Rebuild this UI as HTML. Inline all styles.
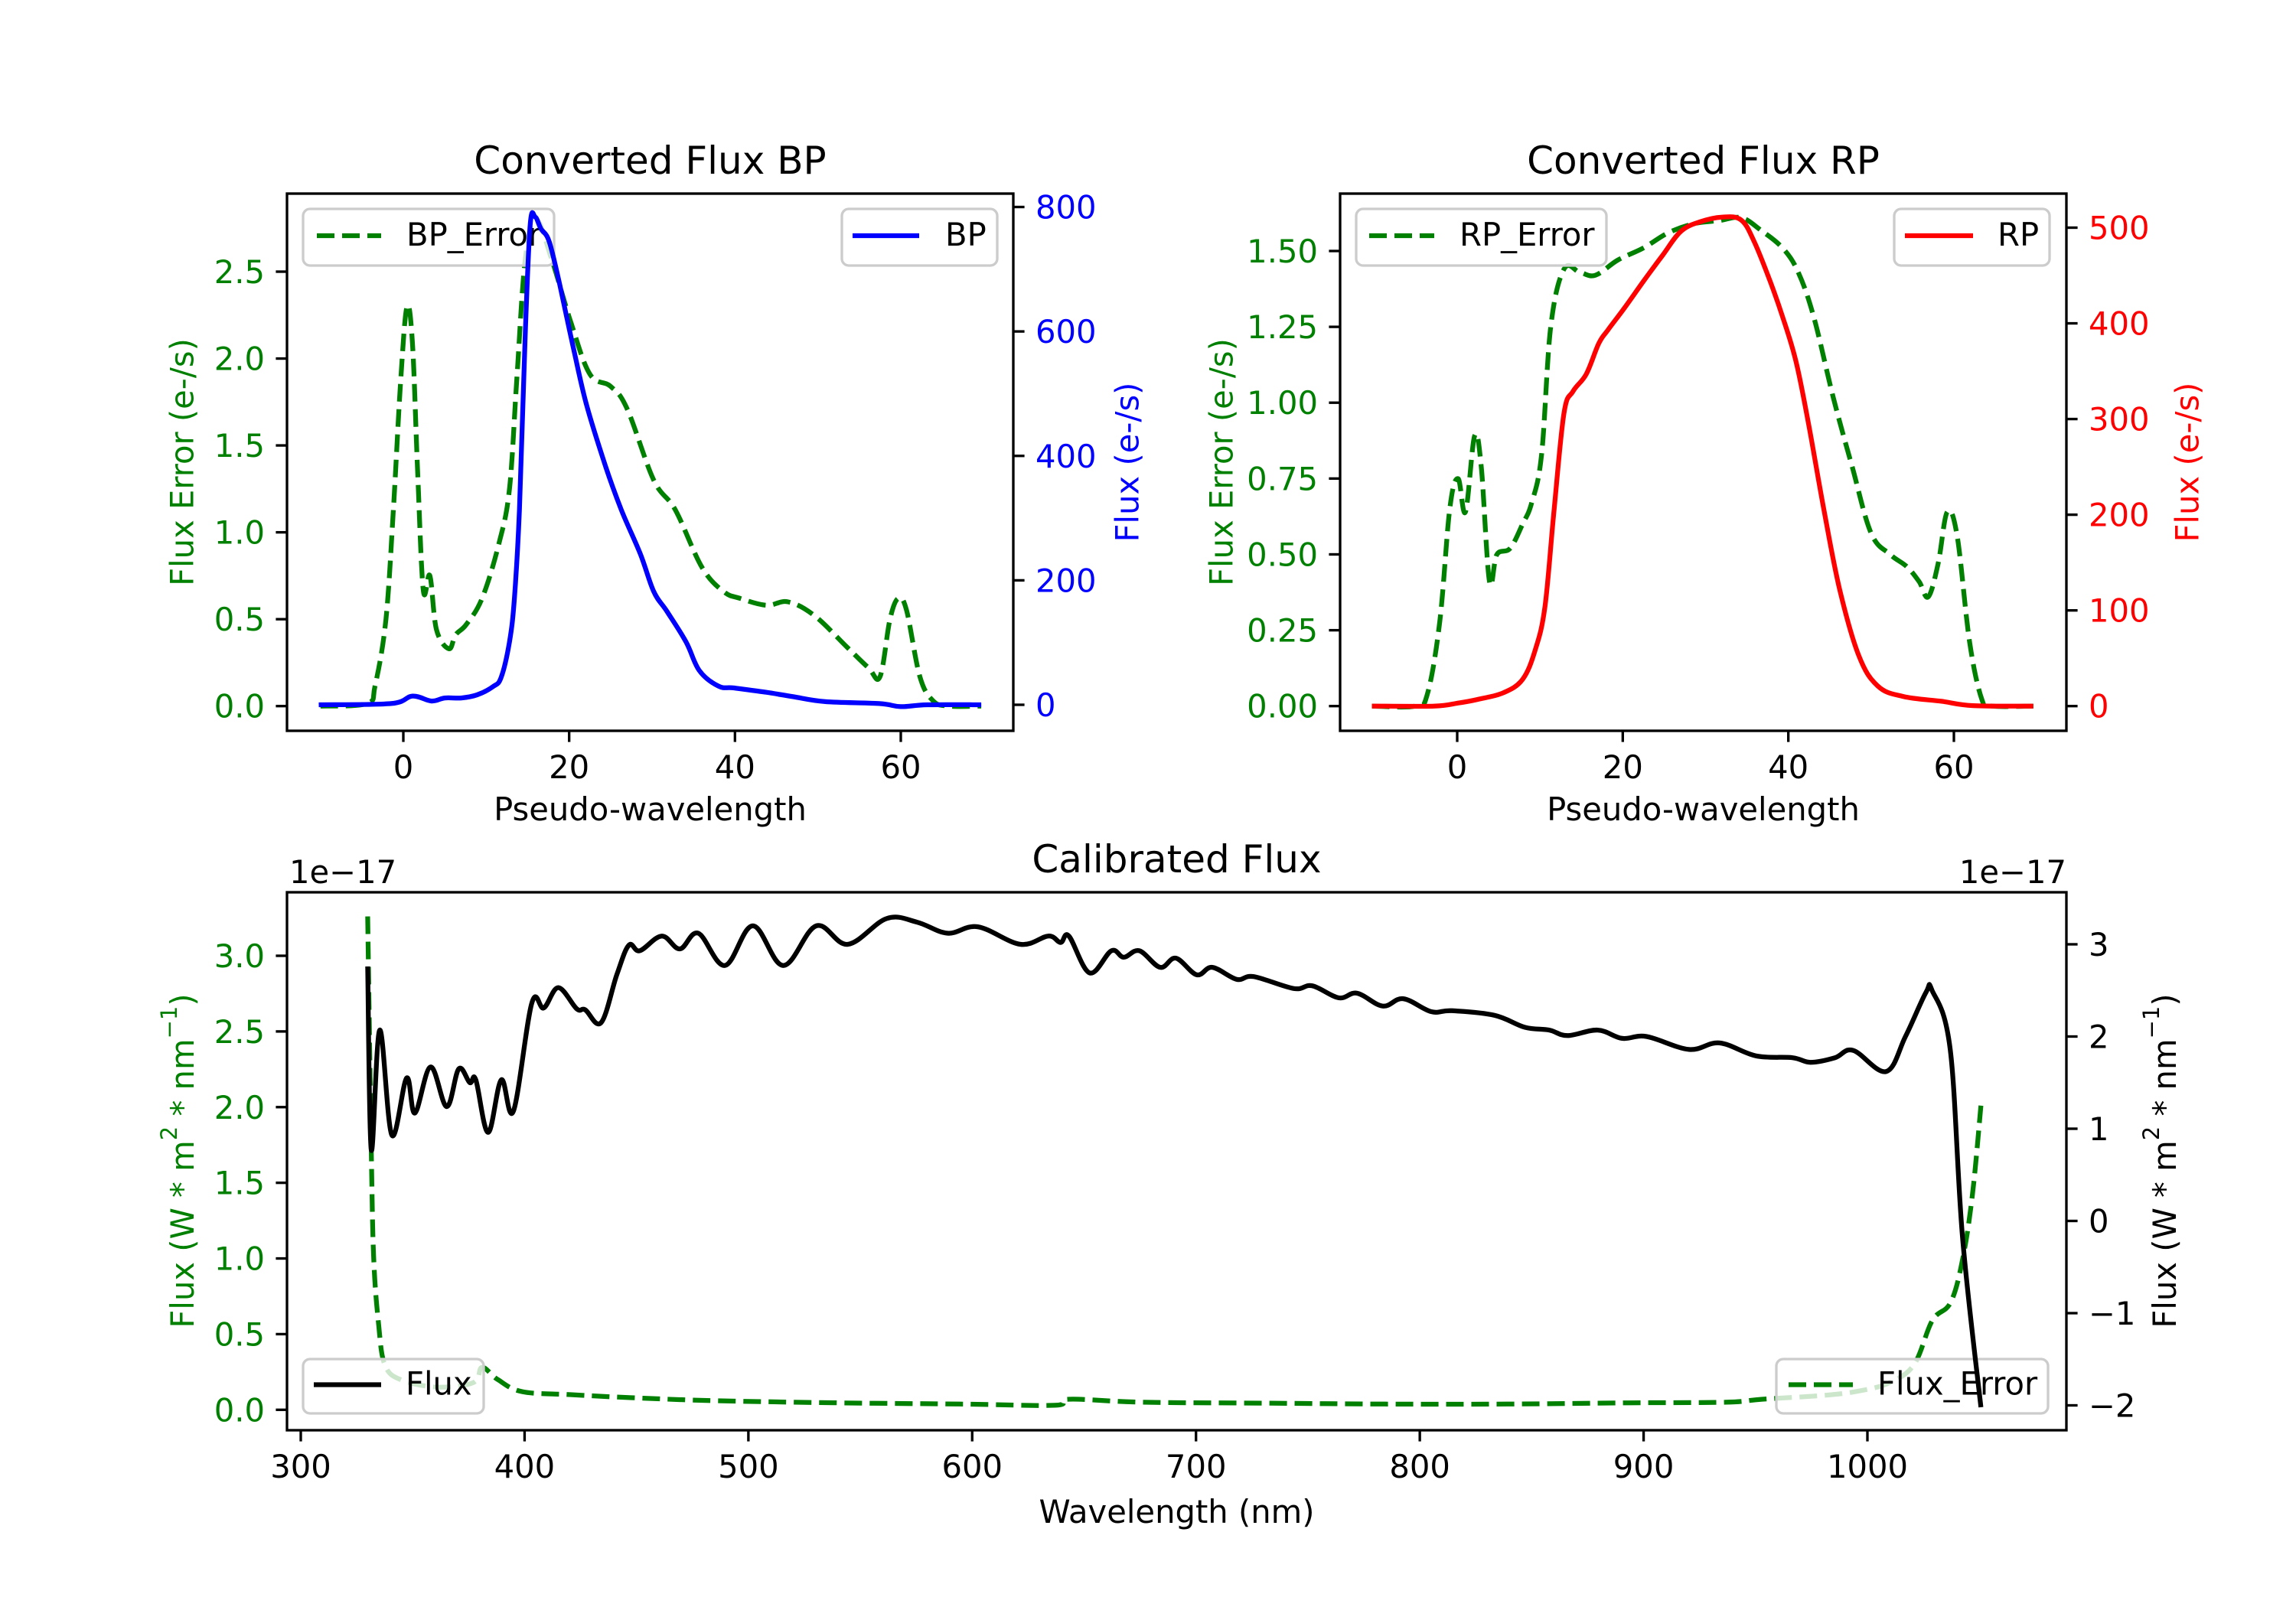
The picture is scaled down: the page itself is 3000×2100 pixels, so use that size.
<!DOCTYPE html>
<html><head><meta charset="utf-8"><style>
html,body{margin:0;padding:0;background:#fff;}
svg{display:block;font-family:"DejaVu Sans","Liberation Sans",sans-serif;}
</style></head>
<body>
<svg id="fig" xmlns="http://www.w3.org/2000/svg" width="3000" height="2100" viewBox="0 0 3000 2100">
<rect width="3000" height="2100" fill="#fff"/>
</svg>
<script>
// ---------- BP panel data ----------
const bpX = [-10.2,-1.5,1.1,3.4,5,7,8.9,10.8,11.8,12.8,13.4,14,14.7,15.3,15.9,16.6,17.6,18.9,20.5,22.1,24.4,26.3,28.6,30.2,31.8,34.1,35.7,38,39.9,43.8,47,50.9,57.4,60,63.2,69.7];
const bpFlux = [0,2,14,6,11,11,16,29,44,101,172,313,595,772,784,765,744,673,574,482,383,313,242,182,150,101,55,30,27,20,13,5,2,-3,0,0];
const bpErrX = [-10,-4.4,-3.4,-2.1,-1.2,-0.3,0.45,1.1,1.7,2.4,3.2,4,5.5,6.3,7.6,9.5,11.5,12.8,13.7,14.7,16,17.9,20.2,22.5,25,27,30.2,32.8,36,38.6,40.6,43.8,46.4,49.6,53.5,56.1,57.5,58.7,59.7,60.7,62.3,63.9,65.8,69.7];
const bpErr = [0,0.015,0.12,0.5,1.13,1.89,2.30,2.09,1.38,0.67,0.75,0.44,0.33,0.41,0.47,0.62,0.93,1.25,1.89,2.57,2.80,2.57,2.21,1.91,1.84,1.71,1.30,1.13,0.80,0.66,0.62,0.58,0.60,0.52,0.34,0.22,0.17,0.50,0.62,0.55,0.17,0.03,0,0];
// ---------- RP panel data ----------
const rpX = [-10.3,-2.8,0,2.5,5.6,7.9,9.4,10.6,11.7,12.9,14,15.6,17.1,18.2,20.2,22.5,24.8,27,29.3,32,34.3,35.9,37.8,39.3,40.9,42.4,44.3,46.2,48.5,50.8,53.9,58.5,62.3,69.6];
const rpFlux = [0,0,3,7,14,28,58,104,205,306,329,347,379,393,416,444,471,496,506,511,508,485,444,407,361,297,205,122,53,21,10,5,0.5,0];
const rpErrX = [-10.3,-5.1,-3.6,-2.1,-0.9,0.1,1.0,2.1,2.9,3.9,4.8,6.4,7.9,9,10.2,11.3,12.9,14.8,16.7,19.4,22.5,25.5,28.6,31.6,34.3,36.6,39.3,41.2,43.1,45.4,47.7,50,52.3,54.3,55.8,56.9,58.1,59.2,60.4,61.9,63.4,64.6,69.6];
const rpErr = [0,0,0.04,0.28,0.65,0.75,0.64,0.89,0.79,0.41,0.50,0.52,0.60,0.67,0.83,1.25,1.44,1.43,1.42,1.47,1.51,1.56,1.59,1.60,1.61,1.57,1.51,1.43,1.28,1.02,0.79,0.57,0.50,0.46,0.41,0.36,0.47,0.64,0.56,0.21,0.02,0,0];
// ---------- Calibrated panel data ----------
const calX = [329.9,331.5,335.3,340.7,347.3,351,358,365.2,370.6,375.5,378.2,383.7,389.6,395,403.2,408.6,415.1,423.3,427.1,434.2,441.2,446.6,451.5,461.3,469.4,477.6,489.5,502,515.6,530.3,544.4,561.8,575.4,589,602.5,621.5,634,639.5,643.2,652.5,662.2,667.7,674.7,684,691,700.3,707.3,718.2,725.8,743.7,751.9,763.8,772,783.4,792.6,805.1,814.4,833.4,847,857.8,866,879.5,890.4,901.3,920.3,933.9,950.2,966.5,974.6,985.5,993.6,1008.3,1017,1026.2,1028.9,1037,1042.5,1050.7];
const calFlux = [2.76,0.77,2.07,0.93,1.55,1.17,1.67,1.24,1.65,1.50,1.53,0.96,1.53,1.19,2.36,2.31,2.53,2.30,2.29,2.15,2.67,2.99,2.93,3.09,2.95,3.12,2.77,3.2,2.77,3.20,3.00,3.28,3.24,3.12,3.19,3.0,3.09,3.02,3.09,2.69,2.93,2.86,2.93,2.75,2.85,2.67,2.75,2.62,2.65,2.52,2.55,2.42,2.47,2.33,2.41,2.27,2.28,2.23,2.10,2.07,2.01,2.07,1.98,2.00,1.86,1.93,1.79,1.77,1.72,1.77,1.85,1.62,2.0,2.48,2.50,1.86,-0.18,-2.02];
const calErrX = [329.9,331.5,332.6,334.8,337.5,344.5,360.8,377.1,381,388,398.9,420.6,447.8,485.8,540,594.4,636.8,643.3,675.9,730.2,784.5,838.9,893.2,936.7,953,980.2,996.5,1010,1020.9,1029,1037.2,1042.6,1047,1050.7];
const calErr = [3.26,1.72,1.0,0.56,0.30,0.20,0.15,0.18,0.28,0.20,0.12,0.10,0.08,0.06,0.046,0.038,0.03,0.07,0.05,0.044,0.038,0.038,0.046,0.05,0.07,0.095,0.125,0.18,0.30,0.59,0.71,1.0,1.43,2.01];
// ---------- tick labels ----------
const bpLeftTicks = [0,0.5,1.0,1.5,2.0,2.5];
const bpRightTicks = [0,200,400,600,800];
const pseudoTicks = [0,20,40,60];
const rpLeftTicks = [0,0.25,0.5,0.75,1.0,1.25,1.5];
const rpRightTicks = [0,100,200,300,400,500];
const calXTicks = [300,400,500,600,700,800,900,1000];
const calLeftTicks = [0,0.5,1.0,1.5,2.0,2.5,3.0];
const calRightTicks = [-2,-1,0,1,2,3];

const NS = "http://www.w3.org/2000/svg";
const svg = document.getElementById('fig');
const LW = 6.25, TICK = 14.6, SP = 3.33, FS = 41.7;
function el(tag, attrs, parent){
  const e = document.createElementNS(NS, tag);
  for (const k in attrs) e.setAttribute(k, attrs[k]);
  (parent||svg).appendChild(e);
  return e;
}
function lin(d0,p0,d1,p1){ return v => p0 + (v-d0)*(p1-p0)/(d1-d0); }
function fmt(v,dec){ const s = v.toFixed(dec); return s.replace('-','\u2212'); }

function line(xs, ys, sx, sy, color, dashed, name){
  const P = xs.map((x,i)=>[sx(x), sy(ys[i])]);
  let d = 'M'+P[0][0].toFixed(1)+','+P[0][1].toFixed(1);
  const t = 0.35;
  for (let i=0;i<P.length-1;i++){
    const p0 = P[Math.max(0,i-1)], p1 = P[i], p2 = P[i+1], p3 = P[Math.min(P.length-1,i+2)];
    const c1x = p1[0] + (p2[0]-p0[0])*t/2, c1y = p1[1] + (p2[1]-p0[1])*t/2;
    const c2x = p2[0] - (p3[0]-p1[0])*t/2, c2y = p2[1] - (p3[1]-p1[1])*t/2;
    d += ` C${c1x.toFixed(1)},${c1y.toFixed(1)} ${c2x.toFixed(1)},${c2y.toFixed(1)} ${p2[0].toFixed(1)},${p2[1].toFixed(1)}`;
  }
  const p = el('path',{d:d,fill:'none',stroke:color,'stroke-width':LW,'stroke-linejoin':'round'});
  if (dashed) p.setAttribute('stroke-dasharray','23 10');
  
  
  return p;
}
function legend(x,y,w,h,lx0,lx1,tx,label,color,dashed,name){
  const g = el('g',{});
  
  
  el('rect',{x:x,y:y,width:w,height:h,rx:9,fill:'rgba(255,255,255,0.8)',stroke:'#cccccc','stroke-width':3.33},g);
  const ly = y+h/2;
  const l = el('line',{x1:lx0,y1:ly-2,x2:lx1,y2:ly-2,stroke:color,'stroke-width':LW},g);
  if (dashed) l.setAttribute('stroke-dasharray','23 10');
  const t = el('text',{x:tx,y:ly+11,'font-size':FS,fill:'#000'},g);
  t.textContent = label;
}
function frame(L,R,T,B,name){
  const r = el('rect',{x:L,y:T,width:R-L,height:B-T,fill:'none',stroke:'#000','stroke-width':SP});
  
  
}
function xTicks(ticks, sx, B, name, dec){
  const g = el('g',{});
  
  
  ticks.forEach(v=>{
    const x = sx(v);
    el('line',{x1:x,y1:B,x2:x,y2:B+TICK,stroke:'#000','stroke-width':SP},g);
    const t = el('text',{x:x,y:B+62,'font-size':FS,'text-anchor':'middle',fill:'#000'},g);
    t.textContent = fmt(v,dec);
  });
}
function yTicks(ticks, sy, X, side, color, name, dec){
  const g = el('g',{});
  
  
  ticks.forEach(v=>{
    const y = sy(v);
    const x2 = side==='left' ? X-TICK : X+TICK;
    el('line',{x1:X,y1:y,x2:x2,y2:y,stroke:'#000','stroke-width':SP},g);
    const t = el('text',{x: side==='left'? X-29 : X+29, y:y+15,'font-size':FS,'text-anchor': side==='left'?'end':'start',fill:color},g);
    t.textContent = fmt(v,dec);
  });
}
function text(x,y,s,opts,name){
  const t = el('text',Object.assign({x:x,y:y,'font-size':FS,fill:'#000'},opts||{}));
  t.textContent = s;
  
  
  return t;
}
function vlabel(cx,cy,s,color,name){
  return text(0,0,s,{transform:`translate(${cx},${cy}) rotate(-90)`,'text-anchor':'middle',fill:color,'dominant-baseline':'central'},name);
}

// ================= BP panel =================
{
  const L=375,R=1324,T=253,B=955;
  const sx = lin(0,527,60,1177);
  const syL = lin(0,922.7,2.5,355);
  const syR = lin(0,921,800,270.5);
  line(bpErrX,bpErr,sx,syL,'#008000',true,'bp-error-line');
  legend(396,273,328,74,414,498,531,'BP_Error','#008000',true,'bp-error-legend');
  legend(1100,273,203,74,1114,1201,1235,'BP','#0000ff',false,'bp-legend');
  line(bpX,bpFlux,sx,syR,'#0000ff',false,'bp-flux-line');
  frame(L,R,T,B,'bp-axes-frame');
  xTicks(pseudoTicks,sx,B,'bp-x-ticks',0);
  yTicks(bpLeftTicks,syL,L,'left','#008000','bp-left-ticks',1);
  yTicks(bpRightTicks,syR,R,'right','#0000ff','bp-right-ticks',0);
  text((L+R)/2,227,'Converted Flux BP',{'font-size':50,'text-anchor':'middle'},'bp-title');
  text((L+R)/2,1072,'Pseudo-wavelength',{'text-anchor':'middle'},'bp-x-axis-title');
  vlabel(238,604,'Flux Error (e-/s)','#008000','bp-left-axis-title');
  vlabel(1473,604,'Flux (e-/s)','#0000ff','bp-right-axis-title');
}
// ================= RP panel =================
{
  const L=1751,R=2700,T=253,B=955;
  const sx = lin(0,1904,60,2553);
  const syL = lin(0,922.7,1.5,328);
  const syR = lin(0,922.7,500,297.5);
  line(rpErrX,rpErr,sx,syL,'#008000',true,'rp-error-line');
  legend(1772,273,327,74,1789,1874,1907,'RP_Error','#008000',true,'rp-error-legend');
  legend(2475,273,203,74,2489,2578,2610,'RP','#ff0000',false,'rp-legend');
  line(rpX,rpFlux,sx,syR,'#ff0000',false,'rp-flux-line');
  frame(L,R,T,B,'rp-axes-frame');
  xTicks(pseudoTicks,sx,B,'rp-x-ticks',0);
  yTicks(rpLeftTicks,syL,L,'left','#008000','rp-left-ticks',2);
  yTicks(rpRightTicks,syR,R,'right','#ff0000','rp-right-ticks',0);
  text((L+R)/2,227,'Converted Flux RP',{'font-size':50,'text-anchor':'middle'},'rp-title');
  text((L+R)/2,1072,'Pseudo-wavelength',{'text-anchor':'middle'},'rp-x-axis-title');
  vlabel(1596,604,'Flux Error (e-/s)','#008000','rp-left-axis-title');
  vlabel(2858,604,'Flux (e-/s)','#ff0000','rp-right-axis-title');
}
// ================= Calibrated panel =================
{
  const L=375,R=2700,T=1166,B=1869;
  const sx = lin(300,393,1000,2440);
  const syL = lin(0,1842.3,3,1249);
  const syR = lin(-2,1836.5,3,1234);
  line(calErrX,calErr,sx,syL,'#008000',true,'flux-error-line');
  legend(396,1776,236,71,410,498,530,'Flux','#000',false,'flux-legend');
  legend(2321,1776,355,71,2337,2421,2453,'Flux_Error','#008000',true,'flux-error-legend');
  line(calX,calFlux,sx,syR,'#000000',false,'flux-line');
  frame(L,R,T,B,'calibrated-axes-frame');
  xTicks(calXTicks,sx,B,'calibrated-x-ticks',0);
  yTicks(calLeftTicks,syL,L,'left','#008000','calibrated-left-ticks',1);
  yTicks(calRightTicks,syR,R,'right','#000','calibrated-right-ticks',0);
  text((L+R)/2,1140,'Calibrated Flux',{'font-size':50,'text-anchor':'middle'},'calibrated-title');
  text((L+R)/2,1990,'Wavelength (nm)',{'text-anchor':'middle'},'calibrated-x-axis-title');
  text(378,1154,'1e\u221217',{},'left-offset-label');
  text(2700,1154,'1e\u221217',{'text-anchor':'end'},'right-offset-label');
  function mathLabel(cx,cy,color,name){
    const t = el('text',{transform:`translate(${cx},${cy}) rotate(-90)`,'text-anchor':'middle','font-size':FS,fill:color,'dominant-baseline':'central'});
    
    
    const parts = [['Flux (W * m',0],['2',1],[' * nm',0],['\u22121',1],[')',0]];
    parts.forEach(p=>{
      const s = el('tspan',{},t);
      if (p[1]) { s.setAttribute('baseline-shift','super'); s.setAttribute('font-size','29'); }
      s.textContent = p[0];
    });
  }
  mathLabel(238,1517,'#008000','calibrated-left-axis-title');
  mathLabel(2828,1517,'#000','calibrated-right-axis-title');
}
</script>
</body></html>
